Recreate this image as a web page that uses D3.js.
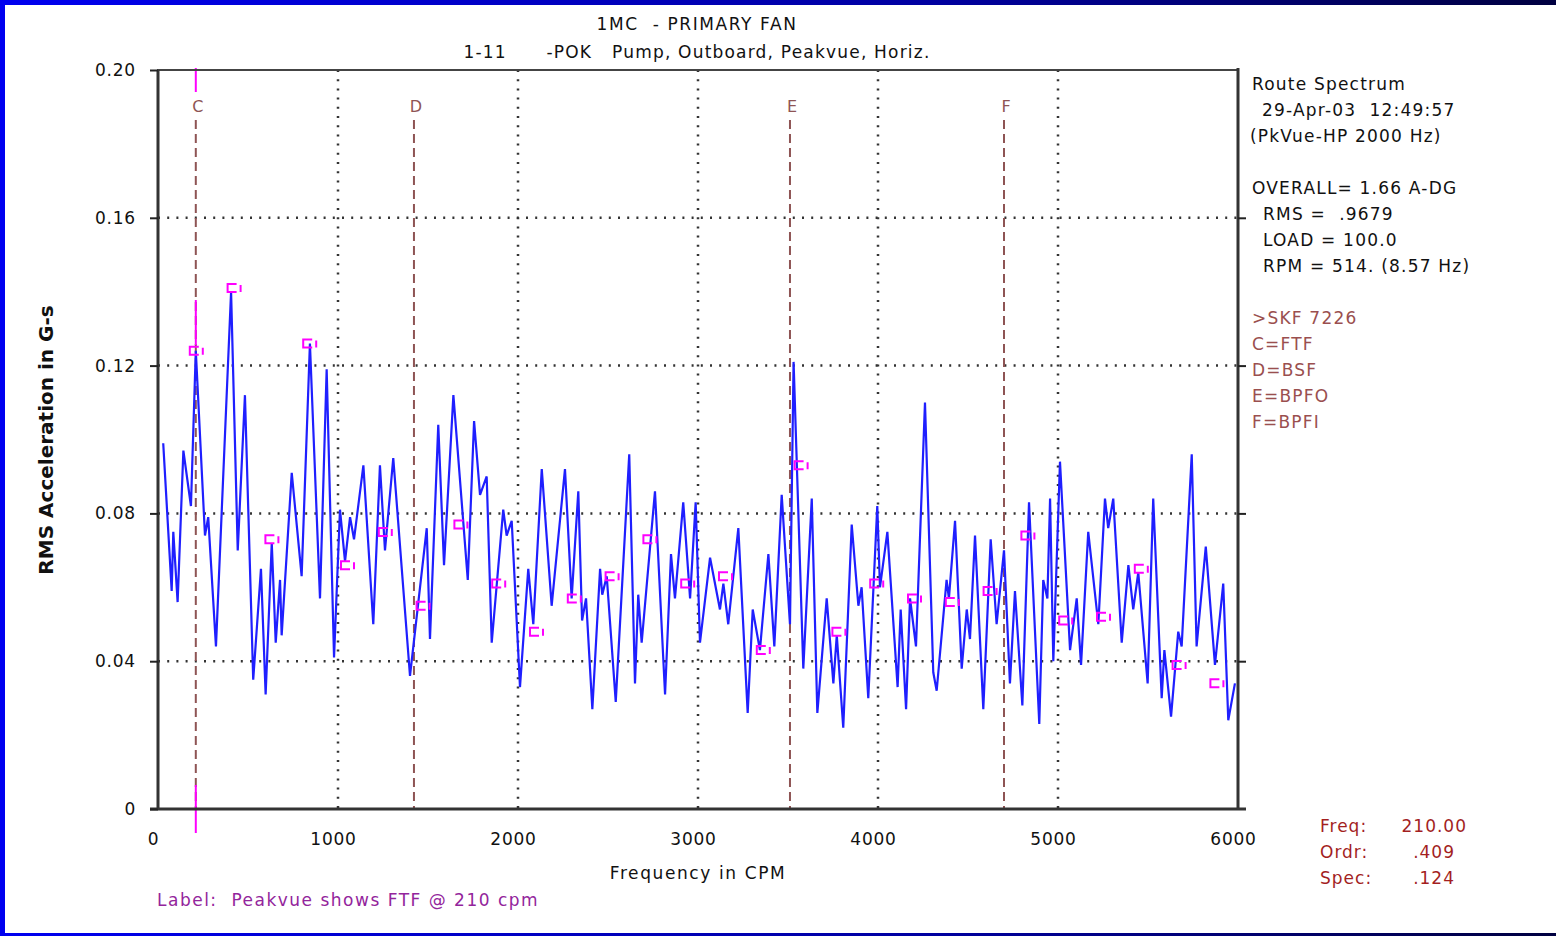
<!DOCTYPE html>
<html lang="en">
<head>
    <meta charset="UTF-8" />
    <title>1MC - PRIMARY FAN route spectrum</title>
    <script src="https://d3js.org/d3.v7.min.js"></script>
    <style>
        body { margin: 0; background: #fff; }
        text { font-family: "DejaVu Sans", "Liberation Sans", sans-serif; white-space: pre; }
    </style>
</head>
<body>
    <div id="container"></div>

    <script>
        // spectrum (local peaks and valleys)
        const specCpm = [29, 76, 85, 109, 141, 183, 210, 261, 279, 322,
            406, 443, 483, 529, 572, 598, 632, 654, 678, 687,
            743, 798, 844, 900, 937, 978, 1011, 1039, 1067, 1089,
            1141, 1196, 1233, 1261, 1307, 1400, 1493, 1511, 1557, 1589,
            1641, 1721, 1756, 1789, 1826, 1854, 1918, 1937, 1965, 2011,
            2057, 2085, 2132, 2187, 2261, 2298, 2335, 2356, 2378, 2413,
            2456, 2468, 2493, 2543, 2618, 2650, 2668, 2687, 2761, 2817,
            2850, 2872, 2918, 2956, 2987, 3011, 3067, 3122, 3141, 3168,
            3224, 3276, 3304, 3344, 3391, 3424, 3465, 3511, 3531, 3585,
            3632, 3663, 3715, 3752, 3771, 3807, 3854, 3891, 3909, 3946,
            3996, 4011, 4052, 4109, 4126, 4156, 4178, 4211, 4261, 4307,
            4326, 4381, 4394, 4428, 4465, 4493, 4511, 4539, 4585, 4626,
            4659, 4700, 4733, 4761, 4802, 4839, 4896, 4918, 4941, 4956,
            4974, 5011, 5067, 5104, 5128, 5168, 5224, 5261, 5279, 5307,
            5354, 5391, 5418, 5446, 5498, 5529, 5576, 5591, 5628, 5668,
            5687, 5743, 5770, 5821, 5872, 5918, 5946, 5983]

        const specG = [.099, .059, .075, .056, .097, .082, .124, .074, .079, .044,
            .140, .070, .112, .035, .065, .031, .072, .045, .062, .047,
            .091, .063, .126, .057, .119, .041, .081, .067, .079, .073,
            .093, .050, .093, .070, .095, .036, .076, .046, .104, .066,
            .112, .062, .105, .085, .090, .045, .081, .074, .078, .033,
            .065, .050, .092, .055, .092, .057, .086, .051, .057, .027,
            .065, .058, .063, .029, .096, .034, .058, .045, .086, .031,
            .069, .057, .083, .057, .083, .045, .068, .054, .061, .050,
            .076, .026, .054, .043, .069, .044, .085, .050, .121, .038,
            .084, .026, .057, .034, .047, .022, .077, .055, .060, .030,
            .082, .060, .075, .033, .054, .027, .057, .044, .110, .037,
            .032, .062, .057, .078, .038, .054, .046, .074, .027, .073,
            .050, .070, .034, .059, .028, .083, .023, .062, .057, .084,
            .040, .094, .043, .057, .039, .075, .050, .084, .076, .084,
            .045, .066, .054, .064, .034, .084, .030, .043, .025, .048,
            .044, .096, .044, .071, .039, .061, .024, .034]

        // FTF harmonic markers (210 cpm family)
        const markCpm = [210, 420, 630, 840, 1050, 1260, 1470, 1680, 1890, 2100,
            2310, 2520, 2730, 2940, 3150, 3360, 3570, 3780, 3990, 4200,
            4410, 4620, 4830, 5040, 5250, 5460, 5670, 5880]
        const markG = [.124, .141, .073, .126, .066, .075, .055, .077, .061, .048,
            .057, .063, .073, .061, .063, .043, .093, .048, .061, .057,
            .056, .059, .074, .051, .052, .065, .039, .034]

        // bearing fault frequencies
        const faultLabels = ["C", "D", "E", "F"]
        const faultCpm = [210, 1422, 3511, 4700]

        const xTicks = [0, 1000, 2000, 3000, 4000, 5000, 6000]
        const yTicks = [0, 0.04, 0.08, 0.12, 0.16, 0.20]

        const infoLines = [
            { t: "Route Spectrum", dx: 0, c: "#111" },
            { t: "29-Apr-03  12:49:57", dx: 10, c: "#111" },
            { t: "(PkVue-HP 2000 Hz)", dx: -2, c: "#111" },
            { t: "", dx: 0, c: "#111" },
            { t: "OVERALL= 1.66 A-DG", dx: 0, c: "#111" },
            { t: "RMS =  .9679", dx: 11, c: "#111" },
            { t: "LOAD = 100.0", dx: 11, c: "#111" },
            { t: "RPM = 514. (8.57 Hz)", dx: 11, c: "#111" },
            { t: "", dx: 0, c: "#111" },
            { t: ">SKF 7226", dx: 0, c: "#9a4f4f" },
            { t: "C=FTF", dx: 0, c: "#9a4f4f" },
            { t: "D=BSF", dx: 0, c: "#9a4f4f" },
            { t: "E=BPFO", dx: 0, c: "#9a4f4f" },
            { t: "F=BPFI", dx: 0, c: "#9a4f4f" }
        ]
        const cursorKeys = ["Freq:", "Ordr:", "Spec:"]
        const cursorVals = ["210.00", ".409", ".124"]

        const width = 1556
        const height = 936
        const margin = ({ top: 70, right: 318, bottom: 127, left: 158 })

        const svg = d3.select("#container")
            .append("svg")
            .attr("width", width)
            .attr("height", height)

        // blue slide frame
        const grad = svg.append("defs").append("linearGradient")
            .attr("id", "band")
        grad.append("stop").attr("offset", "0%").attr("stop-color", "#0000f0")
        grad.append("stop").attr("offset", "60%").attr("stop-color", "#0000a0")
        grad.append("stop").attr("offset", "100%").attr("stop-color", "#000040")

        svg.append("rect").attr("width", width).attr("height", height).attr("fill", "#fff")
        svg.append("rect").attr("x", 0).attr("y", 0).attr("width", width).attr("height", 5).attr("fill", "url(#band)")
        svg.append("rect").attr("x", 0).attr("y", height - 3).attr("width", width).attr("height", 3).attr("fill", "url(#band)")
        svg.append("rect").attr("x", 0).attr("y", 0).attr("width", 5).attr("height", height).attr("fill", "#0000f0")

        const x = d3.scaleLinear()
            .domain([0, 6000])
            .range([margin.left, width - margin.right])

        const y = d3.scaleLinear()
            .domain([0, 0.2])
            .range([height - margin.bottom, margin.top])

        // dotted grid
        svg.append("g")
            .selectAll("line")
            .data(yTicks.filter(d => d > 0 && d < 0.2))
            .join("line")
            .attr("x1", x(0)).attr("x2", x(6000))
            .attr("y1", d => y(d)).attr("y2", d => y(d))
            .attr("stroke", "#333")
            .attr("stroke-width", 2.5)
            .attr("stroke-dasharray", "2,7.2")

        svg.append("g")
            .selectAll("line")
            .data(xTicks.filter(d => d > 0 && d < 6000))
            .join("line")
            .attr("x1", d => x(d)).attr("x2", d => x(d))
            .attr("y1", y(0.2)).attr("y2", y(0))
            .attr("stroke", "#333")
            .attr("stroke-width", 2.5)
            .attr("stroke-dasharray", "2,7.2")

        // fault frequency lines
        svg.append("g")
            .selectAll("line")
            .data(faultCpm)
            .join("line")
            .attr("x1", d => x(d)).attr("x2", d => x(d))
            .attr("y1", 120).attr("y2", y(0))
            .attr("stroke", "#8e5454")
            .attr("stroke-width", 2)
            .attr("stroke-dasharray", "9,5")

        svg.append("g")
            .selectAll("text")
            .data(faultCpm)
            .join("text")
            .attr("x", (d, i) => x(d) + 2)
            .attr("y", 112)
            .attr("text-anchor", "middle")
            .attr("font-size", 16)
            .attr("fill", "#8e5454")
            .text((d, i) => faultLabels[i])

        // cursor at FTF
        const cursorX = x(cursorVals[0] * 1)
        const cursorSegs = [[68, 92], [300, 345], [785, 833]]
        svg.append("g")
            .selectAll("line")
            .data(cursorSegs)
            .join("line")
            .attr("x1", cursorX).attr("x2", cursorX)
            .attr("y1", d => d[0]).attr("y2", d => d[1])
            .attr("stroke", "#ff00ff")
            .attr("stroke-width", 2)

        // spectrum line
        const data = specCpm.map((f, i) => ({ f: f, g: specG[i] }))
        const line = d3.line()
            .x(d => x(d.f))
            .y(d => y(d.g))

        svg.append("path")
            .datum(data)
            .attr("fill", "none")
            .attr("stroke", "#1f1fff")
            .attr("stroke-width", 2.2)
            .attr("stroke-linejoin", "miter")
            .attr("d", line)

        // harmonic markers
        svg.append("g")
            .selectAll("path")
            .data(markCpm)
            .join("path")
            .attr("transform", (d, i) => `translate(${x(d)},${y(markG[i])})`)
            .attr("d", "M3,-4H-6V4H3M7,-3V4")
            .attr("fill", "none")
            .attr("stroke", "#ff00ff")
            .attr("stroke-width", 2)

        // axes frame
        svg.append("rect")
            .attr("x", x(0)).attr("y", y(0.2))
            .attr("width", x(6000) - x(0))
            .attr("height", y(0) - y(0.2))
            .attr("fill", "none")
            .attr("stroke", "#444")
            .attr("stroke-width", 2)

        svg.append("line")
            .attr("x1", x(0)).attr("x2", x(0))
            .attr("y1", y(0.2)).attr("y2", y(0))
            .attr("stroke", "#333").attr("stroke-width", 3)
        svg.append("line")
            .attr("x1", x(6000)).attr("x2", x(6000))
            .attr("y1", y(0.2) - 2).attr("y2", y(0))
            .attr("stroke", "#333").attr("stroke-width", 3)
        svg.append("line")
            .attr("x1", x(0) - 8).attr("x2", x(6000) + 8)
            .attr("y1", y(0)).attr("y2", y(0))
            .attr("stroke", "#333").attr("stroke-width", 3)

        const yAxis = g => g
            .attr("transform", `translate(${x(0)},0)`)
            .call(d3.axisLeft(y).tickValues(yTicks).tickSize(8).tickPadding(14)
                .tickFormat(d => d === 0 ? "0" : d3.format(".2f")(d)))
            .call(g => g.select(".domain").remove())
            .call(g => g.selectAll(".tick line").attr("stroke", "#222").attr("stroke-width", 2))
            .call(g => g.selectAll(".tick text").attr("font-size", 17).attr("fill", "#111")
                .attr("letter-spacing", 0.8).attr("font-family", "DejaVu Sans"))

        const yAxisRight = g => g
            .attr("transform", `translate(${x(6000)},0)`)
            .call(d3.axisRight(y).tickValues(yTicks.filter(d => d > 0 && d < 0.2)).tickSize(8).tickFormat(""))
            .call(g => g.select(".domain").remove())
            .call(g => g.selectAll(".tick line").attr("stroke", "#222").attr("stroke-width", 2))

        const xAxis = g => g
            .attr("transform", `translate(0,${y(0)})`)
            .call(d3.axisBottom(x).tickValues(xTicks).tickSize(0).tickPadding(24).tickFormat(d3.format("d")))
            .call(g => g.select(".domain").remove())
            .call(g => g.selectAll(".tick text").attr("font-size", 17).attr("fill", "#111")
                .attr("letter-spacing", 0.8).attr("dx", -5).attr("font-family", "DejaVu Sans"))

        svg.append("g").call(yAxis)
        svg.append("g").call(yAxisRight)
        svg.append("g").call(xAxis)

        // titles
        svg.append("text")
            .attr("x", 697).attr("y", 30)
            .attr("text-anchor", "middle")
            .attr("font-size", 17)
            .attr("letter-spacing", 1.6)
            .attr("fill", "#111")
            .text("1MC  - PRIMARY FAN")

        svg.append("text")
            .attr("x", 697).attr("y", 58)
            .attr("text-anchor", "middle")
            .attr("font-size", 17)
            .attr("letter-spacing", 1.2)
            .attr("fill", "#111")
            .text("1-11      -POK   Pump, Outboard, Peakvue, Horiz.")

        svg.append("text")
            .attr("x", 698).attr("y", 879)
            .attr("text-anchor", "middle")
            .attr("font-size", 17)
            .attr("letter-spacing", 1.6)
            .attr("fill", "#111")
            .text("Frequency in CPM")

        svg.append("text")
            .attr("transform", "translate(53,440)rotate(-90)")
            .attr("text-anchor", "middle")
            .attr("font-size", 20)
            .attr("font-weight", "bold")
            .attr("font-family", "Liberation Sans")
            .attr("fill", "#111")
            .text("RMS Acceleration in G-s")

        svg.append("text")
            .attr("x", 157).attr("y", 906)
            .attr("font-size", 17)
            .attr("letter-spacing", 1.5)
            .attr("fill", "#93259c")
            .text("Label:  Peakvue shows FTF @ 210 cpm")

        // right hand info block
        svg.append("g")
            .selectAll("text")
            .data(infoLines)
            .join("text")
            .attr("x", d => 1252 + d.dx)
            .attr("y", (d, i) => 90 + i * 26)
            .attr("font-size", 17)
            .attr("letter-spacing", 1.2)
            .attr("fill", d => d.c)
            .text(d => d.t)

        // cursor readout
        svg.append("g")
            .selectAll("text")
            .data(cursorKeys)
            .join("text")
            .attr("x", 1320)
            .attr("y", (d, i) => 832 + i * 26)
            .attr("font-size", 17)
            .attr("letter-spacing", 1)
            .attr("fill", "#a31f1f")
            .text(d => d)

        svg.append("g")
            .selectAll("text")
            .data(cursorVals)
            .join("text")
            .attr("x", (d, i) => i === 0 ? 1467 : 1455)
            .attr("y", (d, i) => 832 + i * 26)
            .attr("text-anchor", "end")
            .attr("font-size", 17)
            .attr("letter-spacing", 1)
            .attr("fill", "#a31f1f")
            .text(d => d)
    </script>
</body>
</html>
